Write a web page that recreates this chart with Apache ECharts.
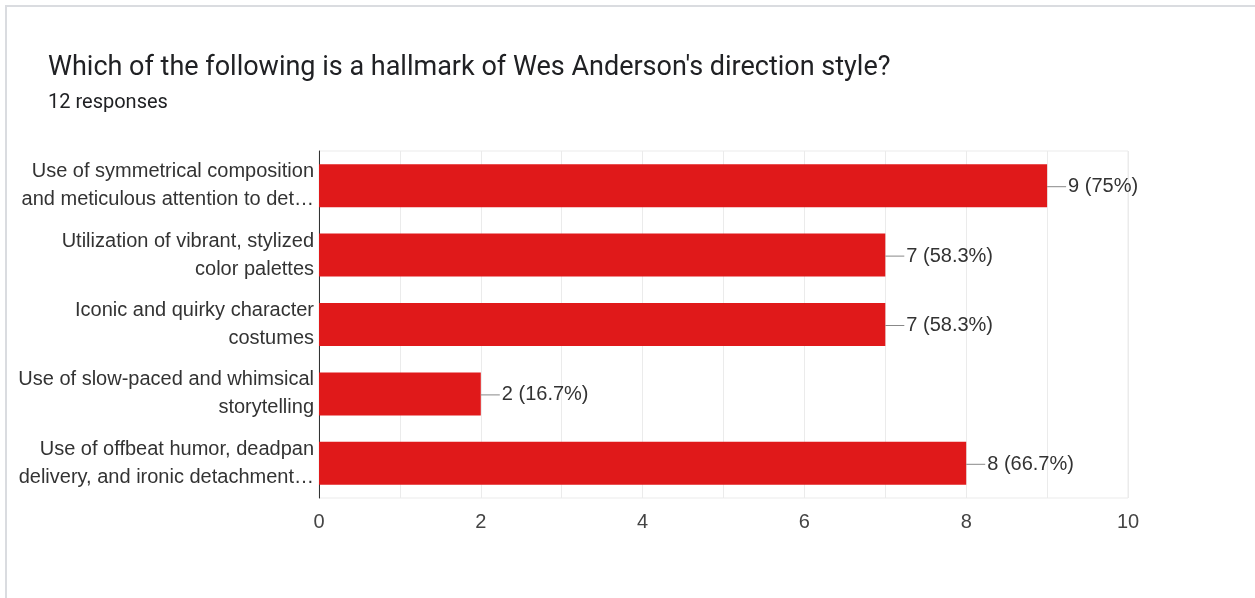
<!DOCTYPE html>
<html>
<head>
<meta charset="utf-8">
<script src="https://cdn.jsdelivr.net/npm/echarts@6/dist/echarts.min.js"></script>
<style>
  html, body { margin: 0; padding: 0; background: #fff; }
  #chart { width: 1255px; height: 598px; }
</style>
</head>
<body>
<div id="chart"></div>
<script>
// Survey question and answer counts
const questionTitle = "Which of the following is a hallmark of Wes Anderson's direction style?";
const responseCount = 12;
const categories = [
  "Use of symmetrical composition\nand meticulous attention to det…",
  "Utilization of vibrant, stylized\ncolor palettes",
  "Iconic and quirky character\ncostumes",
  "Use of slow-paced and whimsical\nstorytelling",
  "Use of offbeat humor, deadpan\ndelivery, and ironic detachment…"
];
const counts = [9, 7, 7, 2, 8];
const axisTicks = [0, 2, 4, 6, 8, 10];

const chart = echarts.init(document.getElementById('chart'), null, { renderer: 'canvas' });

const chartFont = '"Liberation Sans", Arial, sans-serif';

function pctText(v) {
  const p = Math.round(v / responseCount * 1000) / 10;
  return String(p);
}

chart.setOption({
  animation: false,
  backgroundColor: '#ffffff',
  graphic: [
    {
      type: 'rect',
      shape: { x: 6, y: 6, width: 1400, height: 800 },
      style: { fill: 'none', stroke: '#dadce0', lineWidth: 2 },
      silent: true
    },
    {
      type: 'text',
      left: 48, top: 55,
      style: {
        text: questionTitle,
        font: '400 27px Roboto, "Liberation Sans", Arial, sans-serif',
        fill: '#202124'
      }
    },
    {
      type: 'text',
      left: 48, top: 93,
      style: {
        text: responseCount + ' responses',
        font: '400 20px Roboto, "Liberation Sans", Arial, sans-serif',
        fill: '#202124'
      }
    }
  ],
  grid: {
    left: 319, right: 127, top: 151, bottom: 100,
    show: true, borderColor: '#ebebeb', borderWidth: 1,
    containLabel: false
  },
  xAxis: {
    type: 'value',
    min: axisTicks[0],
    max: axisTicks[axisTicks.length - 1],
    interval: axisTicks[1] - axisTicks[0],
    axisLine: { show: false },
    axisTick: { show: false },
    splitLine: { show: true, lineStyle: { color: '#ebebeb', width: 1 } },
    minorTick: { show: false, splitNumber: 2 },
    minorSplitLine: { show: true, lineStyle: { color: '#ebebeb', width: 1 } },
    axisLabel: {
      margin: 14,
      fontSize: 20,
      color: '#444',
      fontFamily: chartFont
    }
  },
  yAxis: {
    type: 'category',
    inverse: true,
    data: categories,
    axisLine: { show: true, lineStyle: { color: '#333', width: 1 } },
    axisTick: { show: false },
    axisLabel: {
      margin: 5,
      fontSize: 20,
      lineHeight: 28,
      padding: [4, 0, 0, 0],
      color: '#333',
      align: 'right',
      fontFamily: chartFont
    }
  },
  series: [{
    type: 'bar',
    data: counts,
    barCategoryGap: '38%',
    itemStyle: { color: '#e0191a' },
    label: {
      show: true,
      position: 'right',
      distance: 0,
      offset: [0, 1],
      formatter: p => '{line|}{t|' + p.value + ' (' + pctText(p.value) + '%)}',
      rich: {
        line: { width: 19, height: 1, backgroundColor: '#888', verticalAlign: 'middle' },
        t: {
          fontSize: 20, color: '#333', padding: [0, 0, 0, 2],
          fontFamily: chartFont, verticalAlign: 'middle'
        }
      }
    }
  }]
});
</script>
</body>
</html>
